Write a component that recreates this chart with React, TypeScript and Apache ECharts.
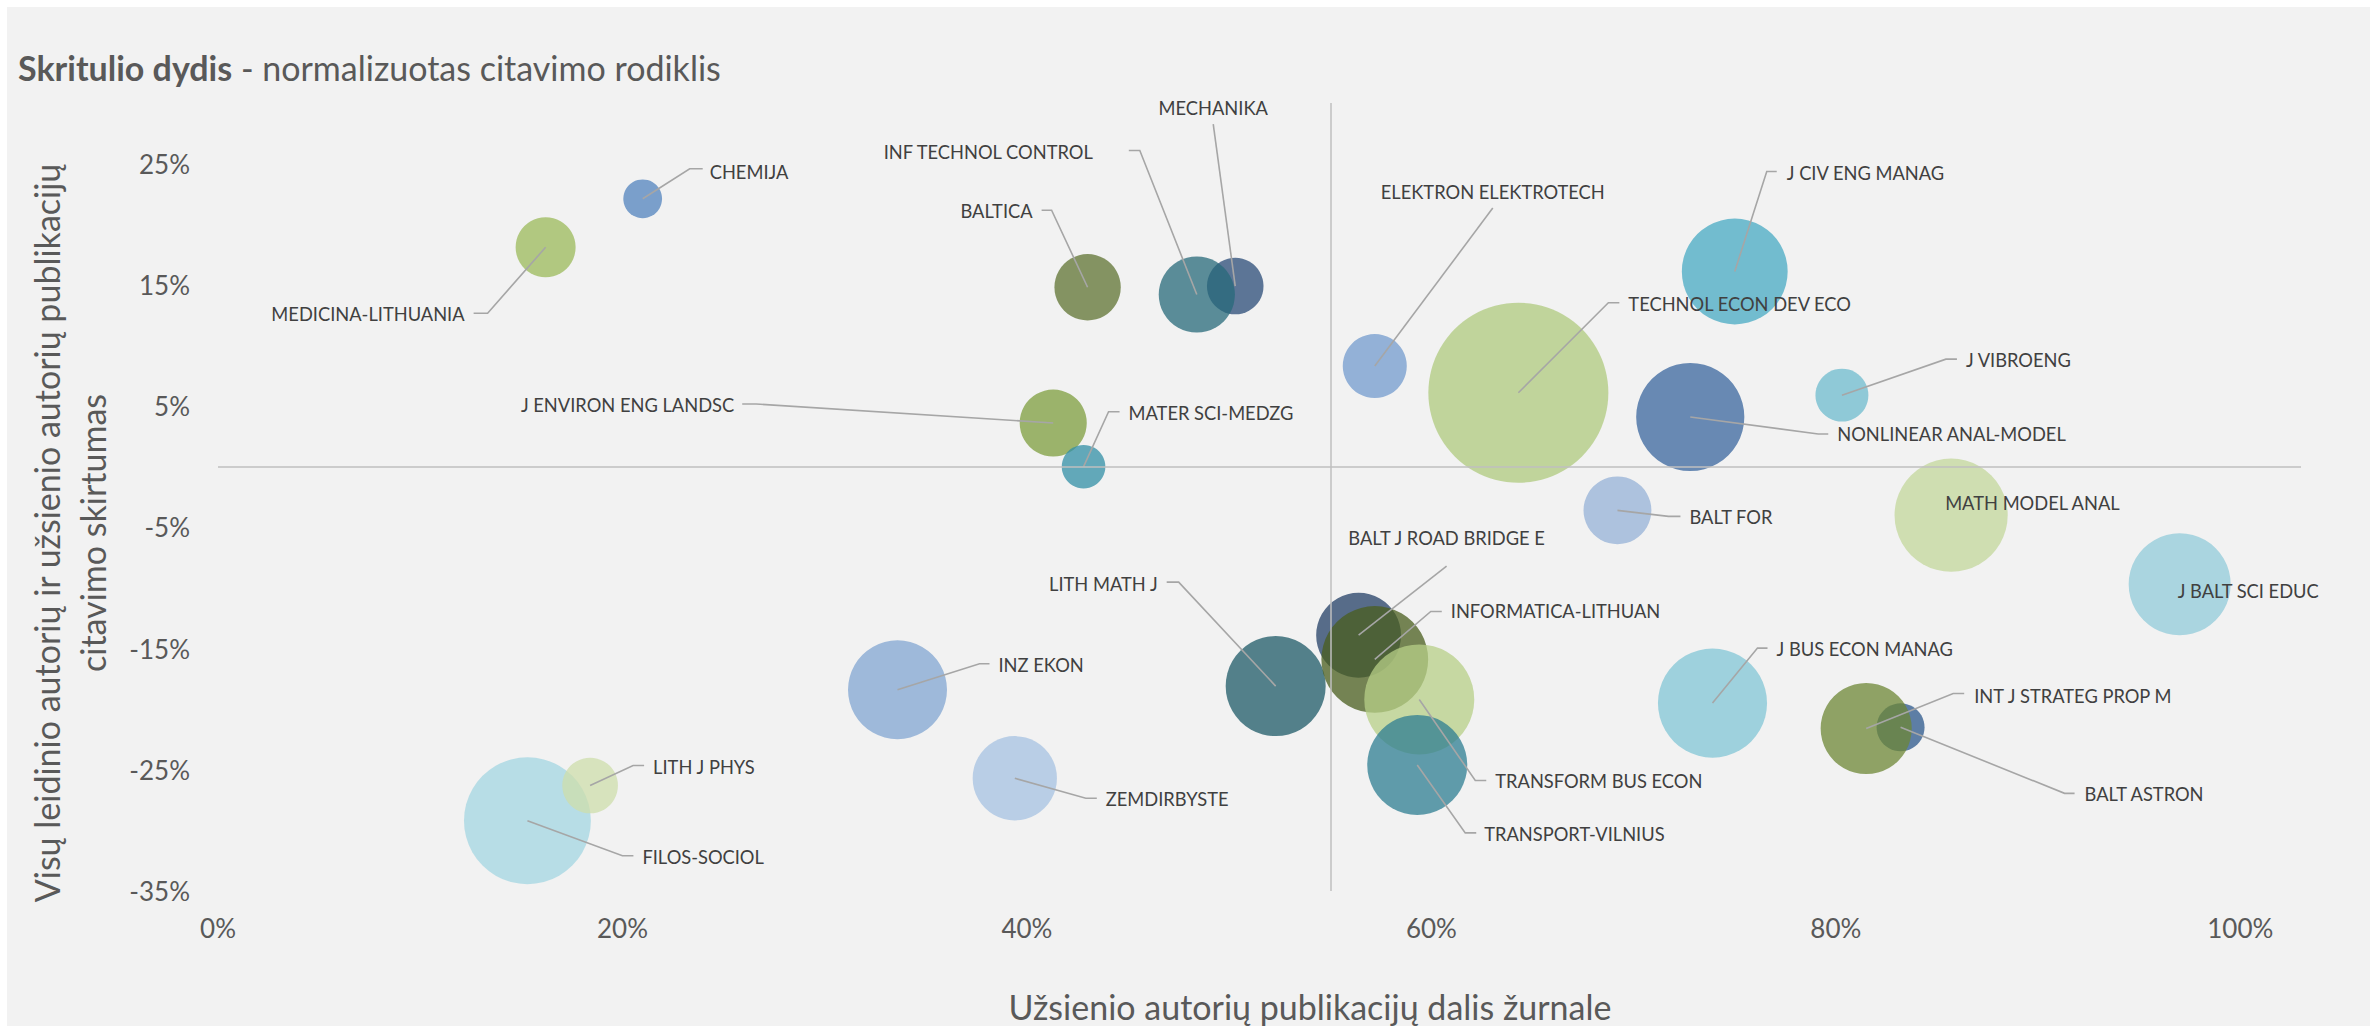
import React, { useEffect, useRef } from "react";
import * as echarts from "echarts";

// ---------- DATA ----------
const journals: string[] = [
  "CHEMIJA", "MEDICINA-LITHUANIA", "BALTICA", "MECHANIKA", "INF TECHNOL CONTROL",
  "J ENVIRON ENG LANDSC", "MATER SCI-MEDZG", "ELEKTRON ELEKTROTECH", "TECHNOL ECON DEV ECO",
  "J CIV ENG MANAG", "NONLINEAR ANAL-MODEL", "J VIBROENG", "BALT FOR", "MATH MODEL ANAL",
  "J BALT SCI EDUC", "J BUS ECON MANAG", "BALT ASTRON", "INT J STRATEG PROP M", "LITH MATH J",
  "BALT J ROAD BRIDGE E", "INFORMATICA-LITHUAN", "TRANSFORM BUS ECON", "TRANSPORT-VILNIUS",
  "FILOS-SOCIOL", "LITH J PHYS", "INZ EKON", "ZEMDIRBYSTE",
];
// share of foreign-author publications (x)
const foreignShare: number[] = [
  0.210, 0.162, 0.430, 0.503, 0.484,
  0.413, 0.428, 0.572, 0.643,
  0.750, 0.728, 0.803, 0.692, 0.857,
  0.970, 0.739, 0.832, 0.815, 0.523,
  0.564, 0.572, 0.594, 0.593,
  0.153, 0.184, 0.336, 0.394,
];
// citation difference (y)
const citationGap: number[] = [
  0.221, 0.181, 0.148, 0.149, 0.142,
  0.036, 0.000, 0.083, 0.061,
  0.161, 0.041, 0.059, -0.036, -0.040,
  -0.097, -0.195, -0.215, -0.216, -0.181,
  -0.139, -0.159, -0.192, -0.246,
  -0.292, -0.263, -0.184, -0.257,
];
// normalized citation index (bubble size)
const normCitation: number[] = [
  0.15, 0.36, 0.44, 0.32, 0.58,
  0.45, 0.19, 0.41, 3.24,
  1.12, 1.17, 0.28, 0.46, 1.28,
  1.04, 1.19, 0.23, 0.83, 1.00,
  0.72, 1.14, 1.21, 1.00,
  1.61, 0.31, 0.98, 0.71,
];
const xTicks = { min: 0, max: 1.03, step: 0.2 };
const yTicks = { min: -0.35, max: 0.3, step: 0.1 };
const CROSS_X = 0.55;
const CROSS_Y = 0;

// ---------- STYLE / LAYOUT ----------
const bubbleColors: string[] = [
  "#7a9fcb", "#b1c87f", "#849362", "#5b7596", "#5a8c98",
  "#9bb36b", "#62a8b9", "#93b1d6", "#c0d49a",
  "#72bbcf", "#6888b2", "#8fc9d7", "#adc2de", "#cfdeb1",
  "#a9d5e0", "#9ed0dc", "#5d7ea5", "#8ea265", "#537f8a",
  "#576c88", "#738352", "#c6d8a2", "#5f9aa9",
  "#b7dde5", "#d6e2bd", "#9eb9da", "#b9cde6",
];
// [text dx, text dy, align, elbow dx, elbow dy, stub] relative to bubble centre (px)
const labelLayout: any[] = [
  [67, -27, "left", 47, -30, 13],
  [-81, 67, "right", -58, 66, -14],
  [-55, -76, "right", -36, -77, -10],
  [-22, -178, "center", -22, -162, 0],
  [-104, -143, "right", -57, -144, -11],
  [-319, -18, "right", -297, -19, -14],
  [45, -54, "left", 25, -55, 11],
  [118, -174, "center", 118, -158, 0],
  [110, -89, "left", 90, -90, 11],
  [52, -99, "left", 32, -100, 10],
  [147, 17, "left", 128, 17, 10],
  [124, -35, "left", 104, -36, 11],
  [72, 7, "left", 51, 6, 12],
  [-6, -12, "left", null, null, null],
  [-2, 7, "left", null, null, null],
  [64, -54, "left", 45, -55, 10],
  [184, 67, "left", 164, 66, 10],
  [108, -33, "left", 87, -35, 11],
  [-118, -102, "right", -97, -104, -12],
  [88, -97, "center", 88, -69, 0],
  [76, -48, "left", 56, -48, 11],
  [76, 82, "left", 56, 81, 11],
  [67, 69, "left", 48, 68, 11],
  [115, 36, "left", 95, 35, 11],
  [63, -19, "left", 43, -20, 11],
  [101, -25, "left", 82, -26, 10],
  [91, 21, "left", 71, 20, 11],
];

const ALPHA = 0.75;
const BG = 242;
function unblend(hex: string): string {
  const h = hex.replace("#", "");
  const c = [0, 2, 4].map((k) => parseInt(h.substr(k, 2), 16));
  const r = c.map((v) => Math.max(0, Math.min(255, Math.round((v - (1 - ALPHA) * BG) / ALPHA))));
  return `rgb(${r[0]},${r[1]},${r[2]})`;
}

const FONT = "Lato, 'Open Sans', sans-serif";
const pct = (v: number) => `${Math.round(v * 100)}%`;

export default function App() {
  const ref = useRef<HTMLDivElement>(null);
  useEffect(() => {
    if (!ref.current) return;
    const chart = echarts.init(ref.current, undefined, { renderer: "svg" });
    const points = journals.map((_, i) => [foreignShare[i], citationGap[i], normCitation[i]]);
    const option: any = {
      animation: false,
      backgroundColor: "#f2f2f2",
      grid: { left: 211, right: 69, top: 96, bottom: 135, containLabel: false },
      xAxis: {
        type: "value",
        min: xTicks.min,
        max: xTicks.max,
        interval: xTicks.step,
        axisLine: { show: false },
        axisTick: { show: false },
        splitLine: { show: false },
        axisLabel: {
          formatter: pct,
          color: "#595959",
          fontSize: 26,
          fontFamily: FONT,
          margin: 24,
          showMaxLabel: false,
        },
      },
      yAxis: {
        type: "value",
        min: yTicks.min,
        max: yTicks.max,
        interval: yTicks.step,
        axisLine: { show: false },
        axisTick: { show: false },
        splitLine: { show: false },
        axisLabel: {
          formatter: pct,
          color: "#595959",
          fontSize: 26,
          fontFamily: FONT,
          margin: 28,
          showMaxLabel: false,
        },
      },
      graphic: [
        {
          type: "text",
          x: 11,
          y: 60,
          silent: true,
          style: {
            text: "{b|Skritulio dydis}{n| - normalizuotas citavimo rodiklis}",
            verticalAlign: "middle",
            align: "left",
            rich: {
              b: { fontWeight: "bold", fontSize: 34, fontFamily: FONT, fill: "#595959" },
              n: { fontSize: 34, fontFamily: FONT, fill: "#595959" },
            },
          },
        },
        {
          type: "text",
          x: 62,
          y: 526,
          rotation: Math.PI / 2,
          silent: true,
          style: {
            text: "Visų leidinio autorių ir užsienio autorių publikacijų\ncitavimo skirtumas",
            align: "center",
            verticalAlign: "middle",
            lineHeight: 46,
            fontSize: 34,
            fontFamily: FONT,
            fill: "#595959",
          },
        },
        {
          type: "text",
          x: 1303,
          y: 999,
          silent: true,
          style: {
            text: "Užsienio autorių publikacijų dalis žurnale",
            align: "center",
            verticalAlign: "middle",
            fontSize: 34,
            fontFamily: FONT,
            fill: "#595959",
          },
        },
      ],
      series: [
        {
          type: "scatter",
          z: 1,
          silent: true,
          data: [],
          markLine: {
            silent: true,
            symbol: ["none", "none"],
            label: { show: false },
            lineStyle: { color: "#bfbfbf", width: 1.5, type: "solid" },
            data: [{ xAxis: CROSS_X }, { yAxis: CROSS_Y }],
          },
        },
        {
          type: "scatter",
          z: 2,
          silent: true,
          symbol: "circle",
          symbolSize: (val: number[]) => 100 * Math.sqrt(val[2]),
          emphasis: { disabled: true },
          data: points.map((p, i) => ({
            value: p,
            itemStyle: { color: unblend(bubbleColors[i]), opacity: ALPHA },
          })),
        },
        {
          type: "custom",
          z: 3,
          silent: true,
          clip: false,
          data: points,
          renderItem: (params: any, api: any) => {
            const i = params.dataIndex;
            const c = api.coord([api.value(0), api.value(1)]);
            const cx = c[0];
            const cy = c[1];
            const L = labelLayout[i];
            const children: any[] = [];
            if (L[3] !== null) {
              const ex = cx + L[3];
              const ey = cy + L[4];
              children.push({
                type: "polyline",
                shape: { points: [[cx, cy], [ex, ey], [ex + L[5], ey]] },
                style: { stroke: "#a6a6a6", lineWidth: 1.6, fill: null },
              });
            }
            children.push({
              type: "text",
              x: cx + L[0],
              y: cy + L[1],
              style: {
                text: journals[i],
                fill: "#404040",
                fontSize: 18.3,
                fontFamily: FONT,
                align: L[2],
                verticalAlign: "middle",
              },
            });
            return { type: "group", children };
          },
        },
      ],
    };
    chart.setOption(option);
    return () => chart.dispose();
  }, []);
  return (
    <div
      ref={ref}
      style={{ position: "absolute", left: 7, top: 7, width: 2363, height: 1019 }}
    />
  );
}
